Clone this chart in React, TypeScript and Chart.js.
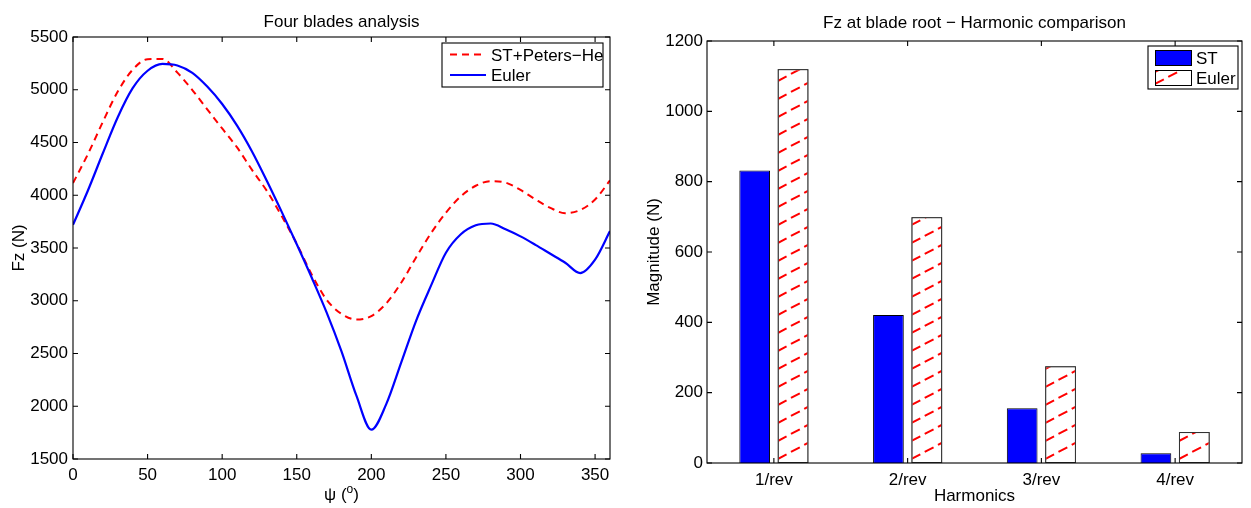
import React, { useEffect, useRef } from "react";
import { Chart, registerables } from "chart.js";

Chart.register(...registerables);

// ---- Left panel: Fz over one rotor revolution ----
const psi = [
  0, 10, 20, 30, 40, 50, 60, 70, 80, 90, 100, 110, 120, 130, 140, 150, 160, 170, 180,
  190, 200, 210, 220, 230, 240, 250, 260, 270, 280, 290, 300, 310, 320, 330, 340, 350, 360,
];
const fzPetersHe = [
  4115, 4390, 4695, 4983, 5190, 5290, 5292, 5162, 4997, 4815, 4633, 4453, 4240, 4040, 3800,
  3540, 3250, 3010, 2875, 2822, 2855, 2975, 3170, 3410, 3640, 3835, 3990, 4090, 4134, 4120,
  4050, 3960, 3880, 3830, 3860, 3960, 4140,
];
const fzEuler = [
  3720, 4045, 4398, 4740, 5015, 5180, 5245, 5230, 5160, 5030, 4865, 4660, 4415, 4135, 3840,
  3535, 3220, 2890, 2520, 2100, 1778, 2020, 2413, 2810, 3143, 3455, 3630, 3715, 3732, 3678,
  3610, 3530, 3445, 3360, 3262, 3390, 3660,
];
const psiTicks = [0, 50, 100, 150, 200, 250, 300, 350];
const fzTicks = [1500, 2000, 2500, 3000, 3500, 4000, 4500, 5000, 5500];

// ---- Right panel: harmonic magnitudes ----
const harmonics = ["1/rev", "2/rev", "3/rev", "4/rev"];
const magnitudeST = [832, 421, 156, 28];
const magnitudeEuler = [1120, 699, 275, 88];
const magnitudeTicks = [0, 200, 400, 600, 800, 1000, 1200];

const FONT_FAMILY = '"Liberation Sans", Arial, Helvetica, sans-serif';
const FONT_SIZE = 17;
const TICK_LEN = 5;
const RED = "#ff0000";
const BLUE = "#0000ff";

const HATCH_SLOPE = 0.53;

function font(size = FONT_SIZE) {
  return `${size}px ${FONT_FAMILY}`;
}

function fixedTicks(values: number[]) {
  return (scale: any) => {
    scale.ticks = values.map((v) => ({ value: v }));
  };
}

// Axes box with inward tick marks on all four sides
function drawFrame(chart: any) {
  const { ctx, chartArea: a, scales } = chart;
  ctx.save();
  ctx.strokeStyle = "#000";
  ctx.lineWidth = 1.1;
  ctx.strokeRect(a.left, a.top, a.right - a.left, a.bottom - a.top);
  ctx.beginPath();
  for (const t of scales.x.ticks) {
    const px = scales.x.getPixelForValue(t.value);
    ctx.moveTo(px, a.bottom);
    ctx.lineTo(px, a.bottom - TICK_LEN);
    ctx.moveTo(px, a.top);
    ctx.lineTo(px, a.top + TICK_LEN);
  }
  for (const t of scales.y.ticks) {
    const py = scales.y.getPixelForValue(t.value);
    ctx.moveTo(a.left, py);
    ctx.lineTo(a.left + TICK_LEN, py);
    ctx.moveTo(a.right, py);
    ctx.lineTo(a.right - TICK_LEN, py);
  }
  ctx.stroke();
  ctx.restore();
}

function drawText(ctx: CanvasRenderingContext2D, text: string, x: number, y: number, align: CanvasTextAlign = "center", rotate = 0) {
  ctx.save();
  ctx.font = font();
  ctx.fillStyle = "#000";
  ctx.textAlign = align;
  ctx.textBaseline = "alphabetic";
  ctx.translate(x, y);
  if (rotate) ctx.rotate(rotate);
  ctx.fillText(text, 0, 0);
  ctx.restore();
}

// Red dashed diagonal hatching clipped to a rectangle
function hatch(ctx: CanvasRenderingContext2D, left: number, top: number, right: number, bottom: number, gap = 18, start = 4) {
  ctx.save();
  ctx.beginPath();
  ctx.rect(left + 1, top + 1, right - left - 2, bottom - top - 2);
  ctx.clip();
  ctx.strokeStyle = RED;
  ctx.lineWidth = 2;
  ctx.setLineDash([10, 5]);
  const w = right - left;
  for (let y0 = bottom - start; y0 > top - gap; y0 -= gap) {
    ctx.beginPath();
    ctx.moveTo(left, y0);
    ctx.lineTo(right, y0 - w * HATCH_SLOPE);
    ctx.stroke();
  }
  ctx.restore();
}

const lineDecor = {
  id: "lineDecor",
  afterDraw(chart: any) {
    const { ctx, chartArea: a } = chart;
    drawFrame(chart);
    const cx = (a.left + a.right) / 2;
    drawText(ctx, "Four blades analysis", cx, 27);
    drawText(ctx, "Fz (N)", 24, (a.top + a.bottom) / 2, "center", -Math.PI / 2);

    // x label: ψ (°) with a raised small "o"
    ctx.save();
    ctx.font = font();
    const p1 = "ψ (";
    const p3 = ")";
    const w1 = ctx.measureText(p1).width;
    ctx.font = font(12);
    const w2 = ctx.measureText("o").width;
    ctx.font = font();
    const w3 = ctx.measureText(p3).width;
    const x0 = cx - (w1 + w2 + w3) / 2;
    const yb = 500;
    ctx.fillStyle = "#000";
    ctx.textBaseline = "alphabetic";
    ctx.textAlign = "left";
    ctx.fillText(p1, x0, yb);
    ctx.font = font(12);
    ctx.fillText("o", x0 + w1, yb - 7);
    ctx.font = font();
    ctx.fillText(p3, x0 + w1 + w2, yb);
    ctx.restore();

    // legend box
    const lx = a.right - 168;
    const ly = a.top + 6;
    ctx.save();
    ctx.fillStyle = "#fff";
    ctx.strokeStyle = "#000";
    ctx.lineWidth = 1.1;
    ctx.fillRect(lx, ly, 161, 44);
    ctx.strokeRect(lx, ly, 161, 44);
    ctx.lineWidth = 2;
    ctx.strokeStyle = RED;
    ctx.setLineDash([7, 5]);
    ctx.beginPath();
    ctx.moveTo(lx + 8, ly + 11.5);
    ctx.lineTo(lx + 44, ly + 11.5);
    ctx.stroke();
    ctx.setLineDash([]);
    ctx.strokeStyle = BLUE;
    ctx.beginPath();
    ctx.moveTo(lx + 8, ly + 32);
    ctx.lineTo(lx + 44, ly + 32);
    ctx.stroke();
    ctx.restore();
    drawText(ctx, "ST+Peters\u2212He", lx + 49, ly + 17.5, "left");
    drawText(ctx, "Euler", lx + 49, ly + 38, "left");
  },
};

const barDecor = {
  id: "barDecor",
  afterDatasetsDraw(chart: any) {
    const { ctx } = chart;
    const meta = chart.getDatasetMeta(1);
    for (const el of meta.data) {
      const { x, y, base, width } = el.getProps(["x", "y", "base", "width"], true);
      const left = x - width / 2;
      const right = x + width / 2;
      hatch(ctx, left, y, right, base);
      ctx.save();
      ctx.strokeStyle = "#333";
      ctx.lineWidth = 1;
      ctx.strokeRect(left + 0.5, y + 0.5, width - 1, base - y - 1);
      ctx.restore();
    }
  },
  afterDraw(chart: any) {
    const { ctx, chartArea: a } = chart;
    drawFrame(chart);
    const cx = (a.left + a.right) / 2;
    drawText(ctx, "Fz at blade root \u2212 Harmonic comparison", cx, 28);
    drawText(ctx, "Harmonics", cx, 501);
    drawText(ctx, "Magnitude (N)", 34, (a.top + a.bottom) / 2, "center", -Math.PI / 2);

    // legend box
    const lx = a.right - 94;
    const ly = a.top + 5;
    ctx.save();
    ctx.fillStyle = "#fff";
    ctx.strokeStyle = "#000";
    ctx.lineWidth = 1.1;
    ctx.fillRect(lx, ly, 90, 43);
    ctx.strokeRect(lx, ly, 90, 43);
    ctx.fillStyle = BLUE;
    ctx.fillRect(lx + 7, ly + 4, 37, 16);
    ctx.lineWidth = 1;
    ctx.strokeRect(lx + 7.5, ly + 4.5, 36, 15);
    ctx.fillStyle = "#fff";
    ctx.fillRect(lx + 7, ly + 24, 37, 16);
    ctx.restore();
    hatch(ctx, lx + 7, ly + 24, lx + 44, ly + 40, 12, 2);
    ctx.save();
    ctx.strokeStyle = "#000";
    ctx.lineWidth = 1;
    ctx.strokeRect(lx + 7.5, ly + 24.5, 36, 15);
    ctx.restore();
    drawText(ctx, "ST", lx + 48, ly + 18, "left");
    drawText(ctx, "Euler", lx + 48, ly + 38, "left");
  },
};

const tickFont = { family: FONT_FAMILY, size: FONT_SIZE };

function LineChart() {
  const ref = useRef<HTMLCanvasElement>(null);
  useEffect(() => {
    const chart = new Chart(ref.current!, {
      type: "line",
      data: {
        datasets: [
          {
            label: "ST+Peters-He",
            data: psi.map((x, i) => ({ x, y: fzPetersHe[i] })),
            borderColor: RED,
            borderWidth: 2,
            borderDash: [7, 5],
            pointRadius: 0,
            cubicInterpolationMode: "monotone",
            order: 1,
          },
          {
            label: "Euler",
            data: psi.map((x, i) => ({ x, y: fzEuler[i] })),
            borderColor: BLUE,
            borderWidth: 2.2,
            pointRadius: 0,
            cubicInterpolationMode: "monotone",
            order: 0,
          },
        ],
      },
      options: {
        responsive: false,
        animation: false,
        layout: { padding: { left: 8, right: 15, top: 37, bottom: 0 } },
        plugins: { legend: { display: false }, tooltip: { enabled: false }, title: { display: false } },
        scales: {
          x: {
            type: "linear",
            min: 0,
            max: 360,
            grid: { display: false, drawTicks: false },
            border: { display: false },
            afterBuildTicks: fixedTicks(psiTicks),
            afterFit: (s: any) => {
              s.height = 49;
            },
            ticks: { font: tickFont, color: "#000", padding: 6, maxRotation: 0, callback: (v: any) => String(v) },
          },
          y: {
            type: "linear",
            min: 1500,
            max: 5500,
            grid: { display: false, drawTicks: false },
            border: { display: false },
            afterBuildTicks: fixedTicks(fzTicks),
            afterFit: (s: any) => {
              s.width = 65;
            },
            ticks: { font: tickFont, color: "#000", padding: 5, callback: (v: any) => String(v) },
          },
        },
      },
      plugins: [lineDecor],
    });
    return () => chart.destroy();
  }, []);
  return (
    <canvas
      ref={ref}
      width={625}
      height={508}
      style={{ position: "absolute", left: 0, top: 0, width: 625, height: 508 }}
    />
  );
}

function BarChart() {
  const ref = useRef<HTMLCanvasElement>(null);
  useEffect(() => {
    const chart = new Chart(ref.current!, {
      type: "bar",
      data: {
        labels: harmonics,
        datasets: [
          {
            label: "ST",
            data: magnitudeST,
            backgroundColor: BLUE,
            borderColor: "#000",
            borderWidth: 1,
            categoryPercentage: 0.574,
            barPercentage: 0.8,
          },
          {
            label: "Euler",
            data: magnitudeEuler,
            backgroundColor: "#fff",
            borderColor: "#333",
            borderWidth: 1,
            categoryPercentage: 0.574,
            barPercentage: 0.8,
          },
        ],
      },
      options: {
        responsive: false,
        animation: false,
        layout: { padding: { left: 8, right: 9, top: 41, bottom: 0 } },
        plugins: { legend: { display: false }, tooltip: { enabled: false }, title: { display: false } },
        scales: {
          x: {
            type: "category",
            grid: { display: false, drawTicks: false },
            border: { display: false },
            afterFit: (s: any) => {
              s.height = 45;
            },
            ticks: { font: tickFont, color: "#000", padding: 7, maxRotation: 0 },
          },
          y: {
            type: "linear",
            min: 0,
            max: 1200,
            grid: { display: false, drawTicks: false },
            border: { display: false },
            afterBuildTicks: fixedTicks(magnitudeTicks),
            afterFit: (s: any) => {
              s.width = 74;
            },
            ticks: { font: tickFont, color: "#000", padding: 4, callback: (v: any) => String(v) },
          },
        },
      },
      plugins: [barDecor],
    });
    return () => chart.destroy();
  }, []);
  return (
    <canvas
      ref={ref}
      width={626}
      height={508}
      style={{ position: "absolute", left: 625, top: 0, width: 626, height: 508 }}
    />
  );
}

export default function App() {
  return (
    <div style={{ position: "absolute", left: 0, top: 0, width: 1251, height: 508, background: "#fff" }}>
      <LineChart />
      <BarChart />
    </div>
  );
}
